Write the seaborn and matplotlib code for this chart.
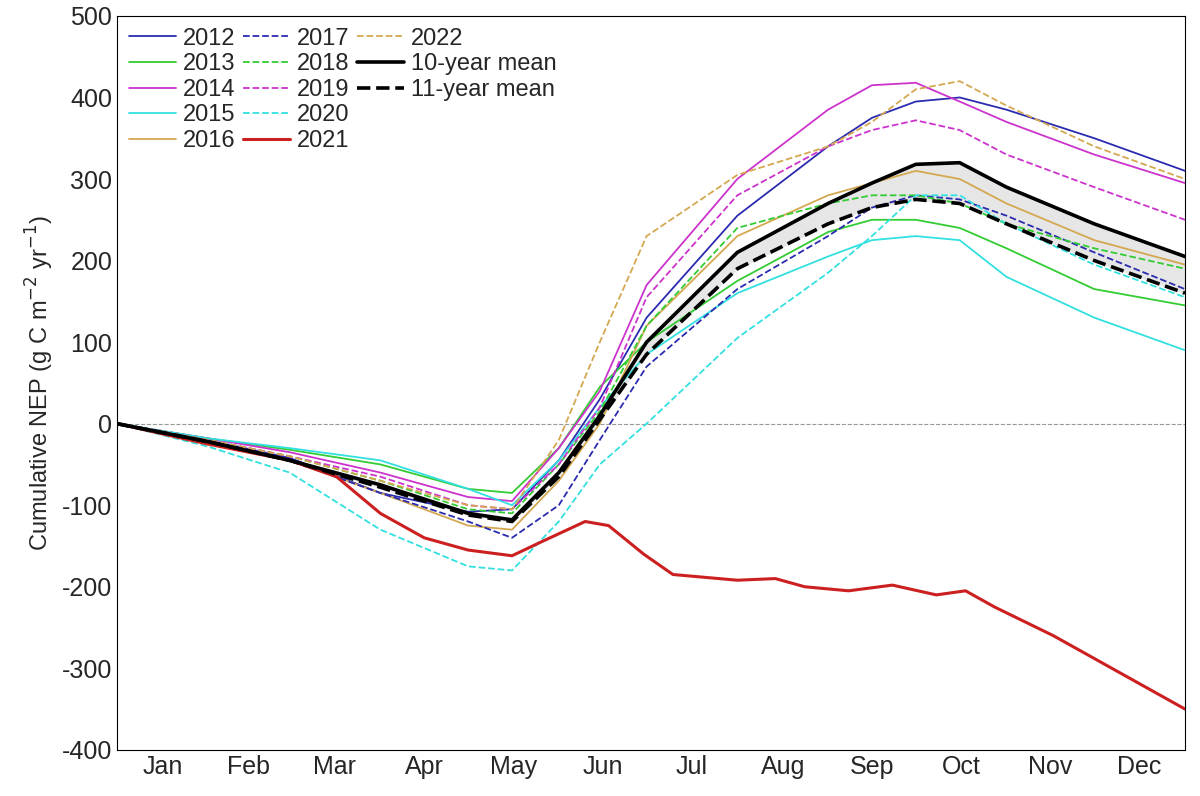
import matplotlib
matplotlib.use("Agg")
import matplotlib.pyplot as plt
import seaborn as sns
from matplotlib.lines import Line2D

days = [0, 31, 59, 90, 120, 135, 151, 165, 181, 212, 243, 258, 273, 288, 304, 334, 365]
y2012 = [0, -20, -42, -85, -108, -105, -45, 30, 130, 255, 340, 375, 395, 400, 385, 350, 310]
y2013 = [0, -18, -32, -50, -80, -85, -30, 45, 100, 175, 235, 250, 250, 240, 215, 165, 145]
y2014 = [0, -18, -35, -60, -90, -95, -30, 40, 170, 300, 385, 415, 418, 395, 370, 330, 295]
y2015 = [0, -18, -30, -45, -80, -100, -45, 20, 85, 160, 205, 225, 230, 225, 180, 130, 90]
y2016 = [0, -22, -45, -85, -125, -130, -70, 0, 120, 230, 280, 295, 310, 300, 270, 225, 195]
y2017 = [0, -22, -45, -85, -120, -140, -100, -20, 70, 165, 230, 265, 280, 275, 255, 210, 165]
y2018 = [0, -20, -40, -70, -105, -110, -50, 15, 120, 240, 270, 280, 280, 270, 245, 215, 190]
y2019 = [0, -20, -40, -65, -100, -105, -50, 20, 155, 280, 340, 360, 372, 360, 330, 290, 250]
y2020 = [0, -28, -60, -130, -175, -180, -120, -50, 0, 105, 185, 230, 280, 280, 245, 195, 155]
y2022 = [0, -20, -40, -70, -100, -105, -20, 100, 230, 305, 340, 370, 410, 420, 390, 340, 300]
mean10 = [0, -22, -45, -75, -110, -118, -60, 10, 100, 210, 270, 295, 318, 320, 290, 245, 205]
mean11 = [0, -22, -45, -78, -112, -120, -65, 5, 85, 190, 245, 265, 275, 270, 245, 200, 160]
days2021 = [0, 31, 59, 75, 90, 105, 120, 135, 145, 160, 168, 180, 190, 212, 225, 235, 250, 265, 280, 290, 300, 320, 340, 365]
y2021 = [0, -25, -45, -65, -110, -140, -155, -162, -145, -120, -125, -160, -185, -192, -190, -200, -205, -198, -210, -205, -225, -260, -300, -350]

months = ["Jan", "Feb", "Mar", "Apr", "May", "Jun", "Jul", "Aug", "Sep", "Oct", "Nov", "Dec"]
month_mid = [15.5, 45, 74.5, 105, 135.5, 166, 196.5, 227.5, 258, 288.5, 319, 349.5]
yticks = [-400, -300, -200, -100, 0, 100, 200, 300, 400, 500]

series = [
    ("2012", days, y2012, "#2b2bb0", "-", 1.3),
    ("2013", days, y2013, "#33cc33", "-", 1.3),
    ("2014", days, y2014, "#cc33cc", "-", 1.3),
    ("2015", days, y2015, "#33e0e0", "-", 1.3),
    ("2016", days, y2016, "#d4a850", "-", 1.3),
    ("2017", days, y2017, "#2b2bb0", "--", 1.3),
    ("2018", days, y2018, "#33cc33", "--", 1.3),
    ("2019", days, y2019, "#cc33cc", "--", 1.3),
    ("2020", days, y2020, "#33e0e0", "--", 1.3),
    ("2021", days2021, y2021, "#cc2020", "-", 2.2),
    ("2022", days, y2022, "#d4a850", "--", 1.3),
    ("10-year mean", days, mean10, "black", "-", 2.6),
    ("11-year mean", days, mean11, "black", "--", 2.6),
]

sns.set_style("white")
plt.rcParams["font.family"] = ["Liberation Sans", "DejaVu Sans"]
plt.rcParams["axes.unicode_minus"] = False
fig = plt.figure(figsize=(12, 7.96), dpi=100)
ax = fig.add_axes([0.0975, 0.058, 0.89, 0.922])
ax.fill_between(days, mean10, mean11, color="#e6e6e6", zorder=1)
ax.axhline(0, color="#999999", ls="--", lw=0.8, zorder=1)
for name, x, y, c, ls, lw in series:
    sns.lineplot(x=x, y=y, ax=ax, color=c, linestyle=ls, linewidth=lw, label=name, zorder=3)
ax.set_xlim(0, 365)
ax.set_ylim(-400, 500)
ax.set_xticks(month_mid)
ax.set_xticklabels(months)
ax.set_yticks(yticks)
ax.tick_params(labelsize=18, direction="in", length=5)
ax.set_ylabel("Cumulative NEP (g C m$^{-2}$ yr$^{-1}$)", fontsize=17)
for s in ax.spines.values():
    s.set_color("black"); s.set_linewidth(0.8)
h, l = ax.get_legend_handles_labels()
h.append(Line2D([], [], color="none")); l.append("")
ax.legend(h, l, ncol=3, loc="upper left", frameon=False, fontsize=17, handlelength=2.0,
          columnspacing=0.3, handletextpad=0.3, labelspacing=0.15, borderaxespad=0.1)
fig.savefig("out.png", dpi=100)
